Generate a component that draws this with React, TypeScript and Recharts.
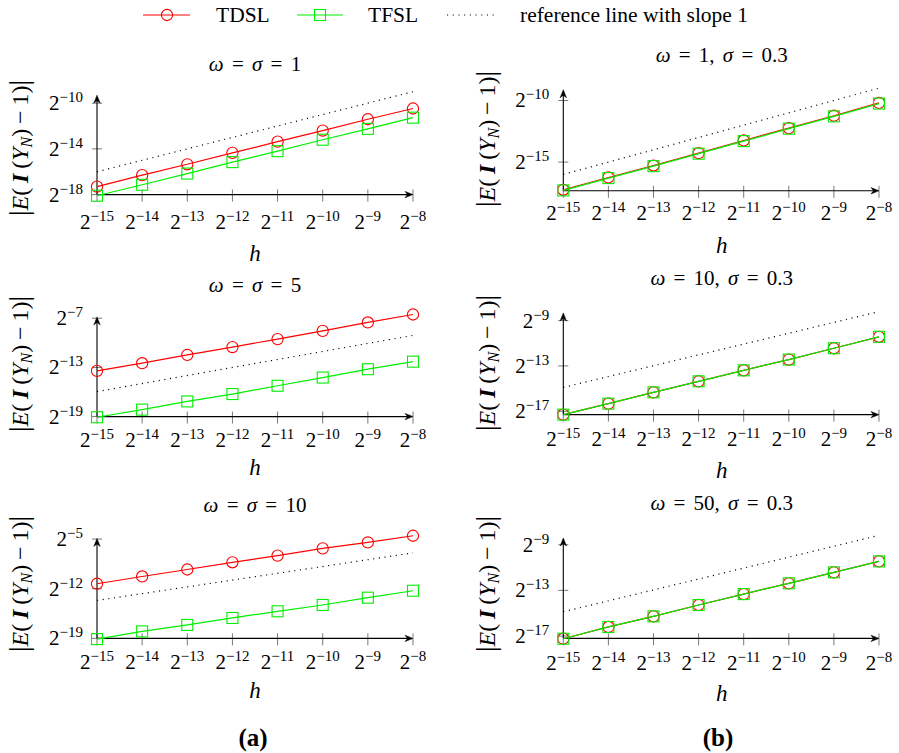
import React from "react";
import { LineChart, Line, XAxis, YAxis, ReferenceLine } from "recharts";

// ---------- data (log2 exponents) ----------
const hExp = [-15, -14, -13, -12, -11, -10, -9, -8];
const refX = [-15, -8];

const tdslA1 = [-17.3, -16.3, -15.35, -14.35, -13.37, -12.4, -11.41, -10.47];
const tfslA1 = [-18.1, -17.14, -16.16, -15.16, -14.2, -13.2, -12.25, -11.27];
const refA1 = [-16, -9];
const yTicksA1 = [-18, -14, -10];

const tdslB1 = [-17.25, -16.25, -15.28, -14.27, -13.25, -12.24, -11.24, -10.2];
const tfslB1 = [-17.3, -16.3, -15.33, -14.32, -13.3, -12.29, -11.29, -10.25];
const refB1 = [-16, -9];
const yTicksB1 = [-15, -10];

const tdslA2 = [-13.42, -12.49, -11.48, -10.52, -9.55, -8.54, -7.52, -6.55];
const tfslA2 = [-19.08, -18.15, -17.15, -16.25, -15.24, -14.24, -13.22, -12.3];
const refA2 = [-15.95, -9.1];
const yTicksA2 = [-19, -13, -7];

const tdslB2 = [-17.3, -16.33, -15.33, -14.36, -13.39, -12.44, -11.44, -10.43];
const tfslB2 = [-17.3, -16.33, -15.33, -14.36, -13.39, -12.44, -11.44, -10.43];
const refB2 = [-14.9, -8.2];
const yTicksB2 = [-17, -13, -9];

const tdslA3 = [-11.3, -10.27, -9.29, -8.27, -7.33, -6.31, -5.47, -4.53];
const tfslA3 = [-19.1, -18.02, -17.1, -16.12, -15.18, -14.29, -13.26, -12.28];
const refA3 = [-13.65, -6.95];
const yTicksA3 = [-19, -12, -5];

const tdslB3 = [-17.23, -16.2, -15.27, -14.28, -13.32, -12.38, -11.42, -10.46];
const tfslB3 = [-17.23, -16.2, -15.27, -14.28, -13.32, -12.38, -11.42, -10.46];
const refB3 = [-14.87, -8.18];
const yTicksB3 = [-17, -13, -9];

const seriesNames = ["TDSL", "TFSL", "reference line with slope 1"];

// ---------- styles / layout ----------
const SERIF = "'Liberation Serif', 'Times New Roman', serif";
const RED = "#ff0000";
const GREEN = "#00ee00";
const TICK_GRAY = "#777777";
const AXIS_LEFT = [97, 563.3];
const AXIS_RIGHT = [413, 879];
const COL_CENTER = [255, 721.7];
const YLABEL_X = [19, 486];

type Panel = {
  title: React.ReactNode;
  tdsl: number[];
  tfsl: number[];
  ref: number[];
  yTicks: number[];
  col: number;
  bottomPx: number;
  unitPx: number;
  yMin: number;
  yArrow: number;
  yMax: number;
  labelDy: number;
  titleY: number;
  hY: number;
  yLabelY: number;
};

const w = (s: string) => <i>{s}</i>;

const panels: Panel[] = [
  {
    title: <>{w("ω")} = {w("σ")} = 1</>,
    tdsl: tdslA1, tfsl: tfslA1, ref: refA1, yTicks: yTicksA1, col: 0,
    bottomPx: 195.7, unitPx: 11.55, yMin: -18, yArrow: -9.3, yMax: -8.5, labelDy: 33,
    titleY: 64, hY: 253, yLabelY: 148,
  },
  {
    title: <>{w("ω")} = 1, {w("σ")} = 0.3</>,
    tdsl: tdslB1, tfsl: tfslB1, ref: refB1, yTicks: yTicksB1, col: 1,
    bottomPx: 191, unitPx: 12.32, yMin: -17.33, yArrow: -9.13, yMax: -8.5, labelDy: 29,
    titleY: 55, hY: 245, yLabelY: 139,
  },
  {
    title: <>{w("ω")} = {w("σ")} = 5</>,
    tdsl: tdslA2, tfsl: tfslA2, ref: refA2, yTicks: yTicksA2, col: 0,
    bottomPx: 417, unitPx: 8.25, yMin: -19, yArrow: -6.84, yMax: -6.0, labelDy: 29.5,
    titleY: 285, hY: 467, yLabelY: 364,
  },
  {
    title: <>{w("ω")} = 10, {w("σ")} = 0.3</>,
    tdsl: tdslB2, tfsl: tfslB2, ref: refB2, yTicks: yTicksB2, col: 1,
    bottomPx: 415, unitPx: 11.33, yMin: -17.3, yArrow: -8.32, yMax: -7.8, labelDy: 31.5,
    titleY: 278, hY: 470, yLabelY: 363,
  },
  {
    title: <>{w("ω")} = {w("σ")} = 10</>,
    tdsl: tdslA3, tfsl: tfslA3, ref: refA3, yTicks: yTicksA3, col: 0,
    bottomPx: 638.6, unitPx: 7.14, yMin: -19, yArrow: -4.9, yMax: -4.0, labelDy: 29.5,
    titleY: 505, hY: 690, yLabelY: 584,
  },
  {
    title: <>{w("ω")} = 50, {w("σ")} = 0.3</>,
    tdsl: tdslB3, tfsl: tfslB3, ref: refB3, yTicks: yTicksB3, col: 1,
    bottomPx: 639, unitPx: 11.46, yMin: -17.2, yArrow: -8.41, yMax: -7.8, labelDy: 31,
    titleY: 503, hY: 693, yLabelY: 584,
  },
];

// ---------- helpers ----------
const supLabel = (v: number) => "\u2212" + Math.abs(v);

const XTick = (props: any) => {
  const { x, payload, labelDy, axisY } = props;
  return (
    <text x={x} y={axisY + labelDy} textAnchor="middle" fontFamily={SERIF} fontSize={21} fill="#000">
      2<tspan dy={-8} fontSize={15}>{supLabel(payload.value)}</tspan>
    </text>
  );
};

const YTick = (props: any) => {
  const { y, payload, axisX } = props;
  return (
    <text x={axisX - 14} y={y + 7} textAnchor="end" fontFamily={SERIF} fontSize={21} fill="#000">
      2<tspan dy={-8} fontSize={15}>{supLabel(payload.value)}</tspan>
    </text>
  );
};

// axis line with arrow head; tick marks placed along the segment that the
// library's scales produced (from value v0 at the start to v1 at the tip)
const makeAxisShape = (tickVals: number[], v0: number, v1: number, horizontal: boolean) => (props: any) => {
  const x1 = Number(props.x1);
  const y1 = Number(props.y1);
  const x2 = Number(props.x2);
  const y2 = Number(props.y2);
  const ang = Math.atan2(y2 - y1, x2 - x1);
  const c = Math.cos(ang);
  const s = Math.sin(ang);
  const pt = (back: number, side: number) =>
    `${x2 - back * c - side * s},${y2 - back * s + side * c}`;
  const d = `M${x2},${y2} L${pt(8, 3.2)} L${pt(5.5, 0)} L${pt(8, -3.2)} Z`;
  const marks = tickVals.map((v) => {
    const t = (v - v0) / (v1 - v0);
    const px = x1 + t * (x2 - x1);
    const py = y1 + t * (y2 - y1);
    return horizontal ? (
      <line key={`m${v}`} x1={px} x2={px} y1={py - 5} y2={py + 7} stroke={TICK_GRAY} strokeWidth={1} />
    ) : (
      <line key={`m${v}`} x1={px - 5} x2={px + 5} y1={py} y2={py} stroke={TICK_GRAY} strokeWidth={1} />
    );
  });
  return (
    <g>
      {marks}
      <line x1={x1} y1={y1} x2={x2 - 5 * c} y2={y2 - 5 * s} stroke="#000" strokeWidth={1.1} />
      <path d={d} fill="#000" stroke="#000" strokeWidth={0.5} strokeLinejoin="round" />
    </g>
  );
};

const circleDot = (props: any) => {
  const { cx, cy, index } = props;
  if (cx == null || cy == null) return <g key={`c${index}`} />;
  return <circle key={`c${index}`} cx={cx} cy={cy} r={5.6} fill="none" stroke={RED} strokeWidth={1.1} />;
};

const squareDot = (props: any) => {
  const { cx, cy, index } = props;
  if (cx == null || cy == null) return <g key={`s${index}`} />;
  return (
    <rect key={`s${index}`} x={cx - 5.5} y={cy - 5.5} width={11} height={11} fill="none" stroke={GREEN} strokeWidth={1.1} />
  );
};

const X_AXIS_H = 30;
const Y_AXIS_W = 60;

function PanelChart({ p }: { p: Panel }) {
  const colLeft = p.col === 0 ? 0 : 450;
  const width = 449;
  const xL = AXIS_LEFT[p.col];
  const xR = AXIS_RIGHT[p.col];
  const plotTop = p.bottomPx - (p.yMax - p.yMin) * p.unitPx;
  const mTop = 10;
  const mBottom = 25;
  const top = plotTop - mTop;
  const height = p.bottomPx - plotTop + mTop + mBottom + X_AXIS_H;
  const axisY = p.bottomPx - top;
  const axisX = xL - colLeft;
  const margin = {
    top: mTop,
    bottom: mBottom,
    left: xL - colLeft - Y_AXIS_W,
    right: colLeft + width - xR,
  };
  const rows = hExp.map((x, i) => ({ x, tdsl: p.tdsl[i], tfsl: p.tfsl[i] }));
  const xAxisShape = makeAxisShape(hExp, -15, -8, true);
  const yAxisShape = makeAxisShape(p.yTicks, p.yMin, p.yArrow, false);
  return (
    <div style={{ position: "absolute", left: colLeft, top, width, height }}>
      <LineChart width={width} height={height} data={rows} margin={margin}>
        <XAxis
          type="number"
          dataKey="x"
          domain={[-15, -8]}
          ticks={hExp}
          interval={0}
          axisLine={false}
          tickLine={false}
          tickSize={0}
          tickMargin={0}
          height={X_AXIS_H}
          tick={(tp: any) => <XTick {...tp} labelDy={p.labelDy} axisY={axisY} />}
        />
        <YAxis
          type="number"
          domain={[p.yMin, p.yMax]}
          ticks={p.yTicks}
          interval={0}
          axisLine={false}
          tickLine={false}
          tickSize={0}
          tickMargin={0}
          width={Y_AXIS_W}
          tick={(tp: any) => <YTick {...tp} axisX={axisX} />}
        />
        <ReferenceLine
          segment={[{ x: -15, y: p.yMin }, { x: -8, y: p.yMin }]}
          shape={xAxisShape}
          ifOverflow="visible"
        />
        <ReferenceLine
          segment={[{ x: -15, y: p.yMin }, { x: -15, y: p.yArrow }]}
          shape={yAxisShape}
          ifOverflow="visible"
        />
        <ReferenceLine
          segment={[{ x: refX[0], y: p.ref[0] }, { x: refX[1], y: p.ref[1] }]}
          stroke="#000"
          strokeWidth={1.2}
          strokeDasharray="1.1 4.6"
          ifOverflow="visible"
        />
        <Line
          dataKey="tdsl"
          name={seriesNames[0]}
          stroke={RED}
          strokeWidth={1.2}
          dot={circleDot}
          isAnimationActive={false}
        />
        <Line
          dataKey="tfsl"
          name={seriesNames[1]}
          stroke={GREEN}
          strokeWidth={1.2}
          dot={squareDot}
          isAnimationActive={false}
        />
      </LineChart>
    </div>
  );
}

const textStyle: React.CSSProperties = {
  position: "absolute",
  fontFamily: SERIF,
  color: "#000",
  whiteSpace: "pre",
  lineHeight: 1,
};

function YLabel({ x, y }: { x: number; y: number }) {
  return (
    <div
      style={{
        ...textStyle,
        left: x,
        top: y,
        fontSize: 24,
        transform: "translate(-50%, -50%) rotate(-90deg)",
      }}
    >
      <span style={{ fontSize: 28 }}>|</span>
      <i>E</i>({"\u2009"}
      <b><i>I</i></b>{"\u2009"}(<i>Y</i>
      <i style={{ fontSize: 16, position: "relative", top: 4 }}>N</i>){"\u2009"}−{"\u2009"}1)
      <span style={{ fontSize: 28 }}>|</span>
    </div>
  );
}

function Legend() {
  return (
    <svg width={899} height={32} style={{ position: "absolute", left: 0, top: 0 }}>
      <line x1={143} x2={190} y1={15} y2={15} stroke={RED} strokeWidth={1.2} />
      <circle cx={167} cy={15} r={5.6} fill="none" stroke={RED} strokeWidth={1.1} />
      <text x={216} y={22} fontFamily={SERIF} fontSize={21.5}>{seriesNames[0]}</text>
      <line x1={297} x2={343} y1={15} y2={15} stroke={GREEN} strokeWidth={1.2} />
      <rect x={314.5} y={9.5} width={11} height={11} fill="none" stroke={GREEN} strokeWidth={1.1} />
      <text x={368} y={22} fontFamily={SERIF} fontSize={21.5}>{seriesNames[1]}</text>
      <line x1={447} x2={494} y1={15} y2={15} stroke="#000" strokeWidth={1.2} strokeDasharray="1.1 4.6" />
      <text x={520} y={22} fontFamily={SERIF} fontSize={21.5}>{seriesNames[2]}</text>
    </svg>
  );
}

export default function App() {
  return (
    <div style={{ position: "absolute", left: 0, top: 0, width: 899, height: 753, background: "#fff", overflow: "hidden" }}>
      <Legend />
      {panels.map((p, i) => (
        <React.Fragment key={i}>
          <PanelChart p={p} />
          <div style={{ ...textStyle, left: COL_CENTER[p.col], top: p.titleY, fontSize: 21, wordSpacing: 3, transform: "translate(-50%, -50%)" }}>
            {p.title}
          </div>
          <div style={{ ...textStyle, left: COL_CENTER[p.col], top: p.hY, fontSize: 23, transform: "translate(-50%, -50%)" }}>
            <i>h</i>
          </div>
          <YLabel x={YLABEL_X[p.col]} y={p.yLabelY} />
        </React.Fragment>
      ))}
      <div style={{ ...textStyle, left: 253, top: 737, fontSize: 25, fontWeight: "bold", transform: "translate(-50%, -50%)" }}>(a)</div>
      <div style={{ ...textStyle, left: 718, top: 737, fontSize: 25, fontWeight: "bold", transform: "translate(-50%, -50%)" }}>(b)</div>
    </div>
  );
}
